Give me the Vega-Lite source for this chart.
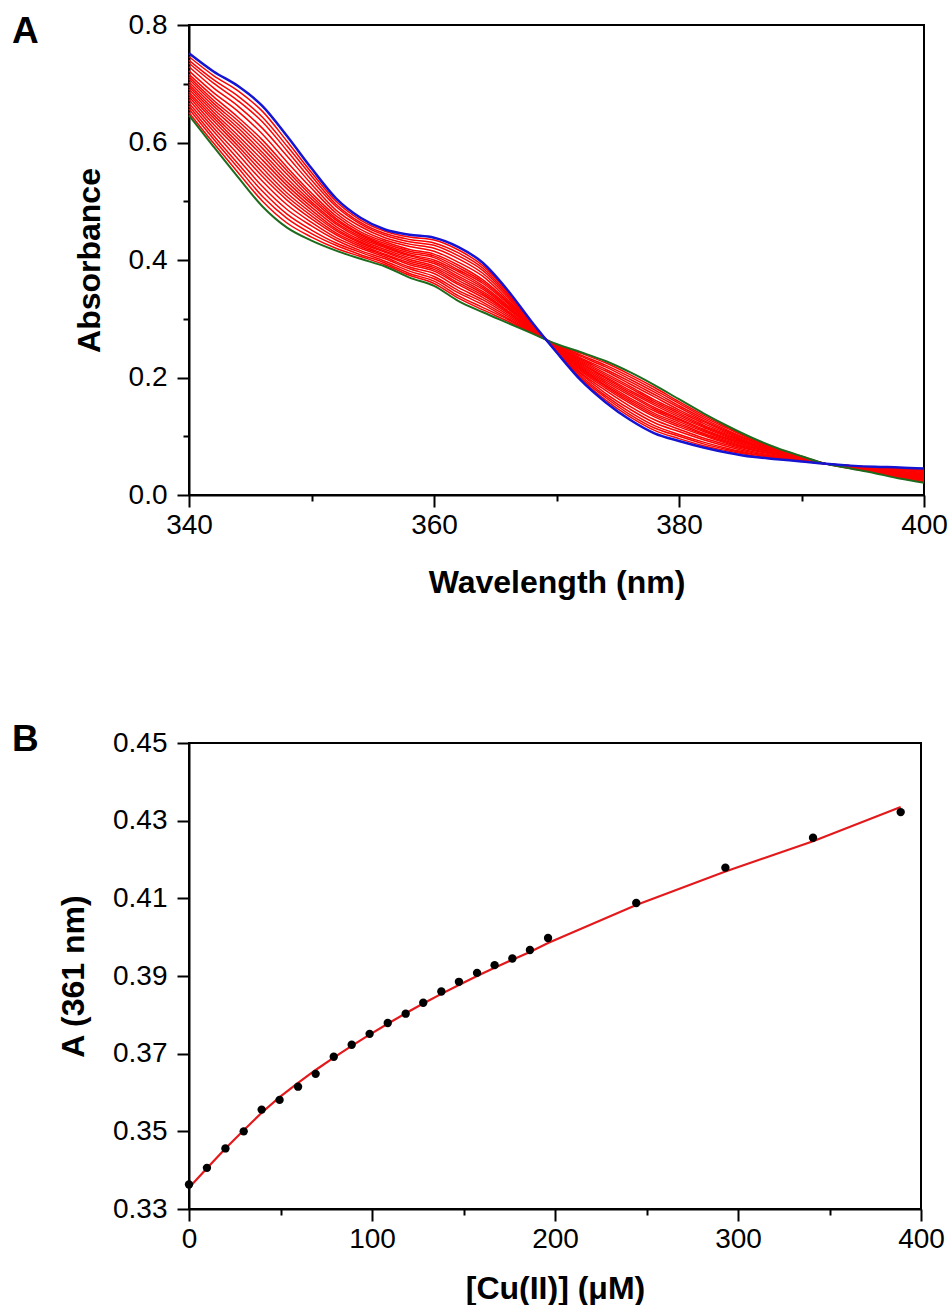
{
  "$schema": "https://vega.github.io/schema/vega-lite/v6.json",
  "background": "white",
  "padding": {"left": 11, "top": 10, "right": 10, "bottom": 0},
  "spacing": 121,
  "config": {
    "font": "Liberation Sans",
    "view": {"stroke": "black", "strokeWidth": 2},
    "axis": {
      "domainColor": "black", "domainWidth": 2,
      "tickColor": "black", "tickWidth": 2,
      "labelFont": "Liberation Sans", "labelFontSize": 28, "labelColor": "black",
      "titleFont": "Liberation Sans", "titleFontSize": 32, "titleFontWeight": "bold", "titleColor": "black",
      "grid": false, "labelFlush": false, "labelOverlap": false, "labelPadding": 8
    },
    "title": {"font": "Liberation Sans", "fontSize": 37, "fontWeight": "bold", "color": "black", "anchor": "start", "frame": "group"}
  },
  "datasets": {
    "spectra": [
      {"w":340,"g":0.646,"b":0.752,"r1":0.651,"r2":0.657,"r3":0.662,"r4":0.667,"r5":0.673,"r6":0.678,"r7":0.682,"r8":0.686,"r9":0.691,"r10":0.695,"r11":0.699,"r12":0.703,"r13":0.708,"r14":0.712,"r15":0.716,"r16":0.722,"r17":0.729,"r18":0.735,"r19":0.740,"r20":0.746},
      {"w":342,"g":0.593,"b":0.721,"r1":0.599,"r2":0.606,"r3":0.612,"r4":0.619,"r5":0.625,"r6":0.631,"r7":0.637,"r8":0.642,"r9":0.647,"r10":0.652,"r11":0.657,"r12":0.662,"r13":0.667,"r14":0.672,"r15":0.678,"r16":0.685,"r17":0.693,"r18":0.701,"r19":0.707,"r20":0.714},
      {"w":344,"g":0.541,"b":0.696,"r1":0.549,"r2":0.557,"r3":0.564,"r4":0.572,"r5":0.580,"r6":0.588,"r7":0.594,"r8":0.600,"r9":0.606,"r10":0.612,"r11":0.619,"r12":0.625,"r13":0.631,"r14":0.637,"r15":0.643,"r16":0.653,"r17":0.662,"r18":0.671,"r19":0.679,"r20":0.688},
      {"w":346,"g":0.491,"b":0.662,"r1":0.500,"r2":0.508,"r3":0.517,"r4":0.525,"r5":0.534,"r6":0.542,"r7":0.549,"r8":0.556,"r9":0.563,"r10":0.570,"r11":0.577,"r12":0.583,"r13":0.590,"r14":0.597,"r15":0.604,"r16":0.614,"r17":0.624,"r18":0.635,"r19":0.643,"r20":0.653},
      {"w":348,"g":0.455,"b":0.611,"r1":0.463,"r2":0.471,"r3":0.478,"r4":0.486,"r5":0.494,"r6":0.502,"r7":0.508,"r8":0.514,"r9":0.521,"r10":0.527,"r11":0.533,"r12":0.539,"r13":0.546,"r14":0.552,"r15":0.558,"r16":0.567,"r17":0.577,"r18":0.586,"r19":0.594,"r20":0.602},
      {"w":350,"g":0.433,"b":0.556,"r1":0.439,"r2":0.445,"r3":0.451,"r4":0.458,"r5":0.464,"r6":0.470,"r7":0.475,"r8":0.480,"r9":0.485,"r10":0.490,"r11":0.495,"r12":0.499,"r13":0.504,"r14":0.509,"r15":0.514,"r16":0.522,"r17":0.529,"r18":0.536,"r19":0.543,"r20":0.549},
      {"w":352,"g":0.416,"b":0.505,"r1":0.420,"r2":0.425,"r3":0.429,"r4":0.434,"r5":0.438,"r6":0.443,"r7":0.446,"r8":0.450,"r9":0.453,"r10":0.457,"r11":0.461,"r12":0.464,"r13":0.468,"r14":0.471,"r15":0.475,"r16":0.480,"r17":0.485,"r18":0.491,"r19":0.495,"r20":0.500},
      {"w":354,"g":0.402,"b":0.472,"r1":0.406,"r2":0.409,"r3":0.413,"r4":0.416,"r5":0.420,"r6":0.423,"r7":0.426,"r8":0.429,"r9":0.431,"r10":0.434,"r11":0.437,"r12":0.440,"r13":0.443,"r14":0.445,"r15":0.448,"r16":0.452,"r17":0.457,"r18":0.461,"r19":0.464,"r20":0.468},
      {"w":356,"g":0.389,"b":0.452,"r1":0.392,"r2":0.395,"r3":0.398,"r4":0.402,"r5":0.405,"r6":0.408,"r7":0.410,"r8":0.413,"r9":0.415,"r10":0.418,"r11":0.421,"r12":0.423,"r13":0.425,"r14":0.428,"r15":0.431,"r16":0.434,"r17":0.438,"r18":0.442,"r19":0.445,"r20":0.449},
      {"w":358,"g":0.370,"b":0.443,"r1":0.374,"r2":0.377,"r3":0.381,"r4":0.385,"r5":0.388,"r6":0.392,"r7":0.395,"r8":0.398,"r9":0.401,"r10":0.404,"r11":0.407,"r12":0.409,"r13":0.412,"r14":0.415,"r15":0.418,"r16":0.423,"r17":0.427,"r18":0.431,"r19":0.435,"r20":0.439},
      {"w":360,"g":0.356,"b":0.438,"r1":0.360,"r2":0.364,"r3":0.368,"r4":0.372,"r5":0.377,"r6":0.381,"r7":0.384,"r8":0.387,"r9":0.390,"r10":0.394,"r11":0.397,"r12":0.400,"r13":0.404,"r14":0.407,"r15":0.410,"r16":0.415,"r17":0.420,"r18":0.425,"r19":0.429,"r20":0.434},
      {"w":362,"g":0.330,"b":0.422,"r1":0.335,"r2":0.339,"r3":0.344,"r4":0.348,"r5":0.353,"r6":0.358,"r7":0.361,"r8":0.365,"r9":0.369,"r10":0.372,"r11":0.376,"r12":0.380,"r13":0.383,"r14":0.387,"r15":0.391,"r16":0.396,"r17":0.402,"r18":0.407,"r19":0.412,"r20":0.417},
      {"w":364,"g":0.311,"b":0.395,"r1":0.315,"r2":0.319,"r3":0.324,"r4":0.328,"r5":0.332,"r6":0.336,"r7":0.340,"r8":0.343,"r9":0.346,"r10":0.350,"r11":0.353,"r12":0.356,"r13":0.360,"r14":0.363,"r15":0.366,"r16":0.372,"r17":0.377,"r18":0.382,"r19":0.386,"r20":0.390},
      {"w":366,"g":0.293,"b":0.349,"r1":0.296,"r2":0.299,"r3":0.301,"r4":0.304,"r5":0.307,"r6":0.310,"r7":0.312,"r8":0.314,"r9":0.317,"r10":0.319,"r11":0.321,"r12":0.323,"r13":0.326,"r14":0.328,"r15":0.330,"r16":0.333,"r17":0.337,"r18":0.340,"r19":0.343,"r20":0.346},
      {"w":368,"g":0.275,"b":0.294,"r1":0.276,"r2":0.277,"r3":0.278,"r4":0.279,"r5":0.280,"r6":0.281,"r7":0.281,"r8":0.282,"r9":0.283,"r10":0.284,"r11":0.285,"r12":0.285,"r13":0.286,"r14":0.287,"r15":0.288,"r16":0.289,"r17":0.290,"r18":0.291,"r19":0.292,"r20":0.293},
      {"w":370,"g":0.257,"b":0.243,"r1":0.256,"r2":0.256,"r3":0.255,"r4":0.254,"r5":0.254,"r6":0.253,"r7":0.252,"r8":0.252,"r9":0.251,"r10":0.251,"r11":0.250,"r12":0.249,"r13":0.249,"r14":0.248,"r15":0.248,"r16":0.247,"r17":0.246,"r18":0.245,"r19":0.245,"r20":0.244},
      {"w":372,"g":0.243,"b":0.195,"r1":0.241,"r2":0.238,"r3":0.236,"r4":0.233,"r5":0.231,"r6":0.229,"r7":0.227,"r8":0.225,"r9":0.223,"r10":0.221,"r11":0.219,"r12":0.217,"r13":0.215,"r14":0.213,"r15":0.211,"r16":0.208,"r17":0.206,"r18":0.203,"r19":0.200,"r20":0.198},
      {"w":374,"g":0.228,"b":0.158,"r1":0.225,"r2":0.221,"r3":0.218,"r4":0.214,"r5":0.211,"r6":0.207,"r7":0.204,"r8":0.201,"r9":0.199,"r10":0.196,"r11":0.193,"r12":0.190,"r13":0.187,"r14":0.185,"r15":0.182,"r16":0.178,"r17":0.173,"r18":0.169,"r19":0.166,"r20":0.162},
      {"w":376,"g":0.209,"b":0.128,"r1":0.205,"r2":0.201,"r3":0.197,"r4":0.193,"r5":0.189,"r6":0.185,"r7":0.182,"r8":0.178,"r9":0.175,"r10":0.172,"r11":0.169,"r12":0.165,"r13":0.162,"r14":0.159,"r15":0.156,"r16":0.151,"r17":0.146,"r18":0.141,"r19":0.137,"r20":0.133},
      {"w":378,"g":0.187,"b":0.105,"r1":0.183,"r2":0.179,"r3":0.175,"r4":0.171,"r5":0.167,"r6":0.162,"r7":0.159,"r8":0.156,"r9":0.153,"r10":0.149,"r11":0.146,"r12":0.143,"r13":0.139,"r14":0.136,"r15":0.133,"r16":0.128,"r17":0.123,"r18":0.118,"r19":0.114,"r20":0.110},
      {"w":380,"g":0.163,"b":0.092,"r1":0.159,"r2":0.156,"r3":0.152,"r4":0.149,"r5":0.145,"r6":0.142,"r7":0.139,"r8":0.136,"r9":0.133,"r10":0.130,"r11":0.128,"r12":0.125,"r13":0.122,"r14":0.119,"r15":0.116,"r16":0.112,"r17":0.108,"r18":0.103,"r19":0.100,"r20":0.096},
      {"w":382,"g":0.139,"b":0.081,"r1":0.136,"r2":0.133,"r3":0.130,"r4":0.127,"r5":0.125,"r6":0.122,"r7":0.119,"r8":0.117,"r9":0.115,"r10":0.112,"r11":0.110,"r12":0.108,"r13":0.105,"r14":0.103,"r15":0.101,"r16":0.097,"r17":0.094,"r18":0.090,"r19":0.087,"r20":0.084},
      {"w":384,"g":0.117,"b":0.072,"r1":0.115,"r2":0.113,"r3":0.110,"r4":0.108,"r5":0.106,"r6":0.104,"r7":0.102,"r8":0.100,"r9":0.098,"r10":0.096,"r11":0.095,"r12":0.093,"r13":0.091,"r14":0.089,"r15":0.087,"r16":0.085,"r17":0.082,"r18":0.079,"r19":0.077,"r20":0.075},
      {"w":386,"g":0.097,"b":0.065,"r1":0.095,"r2":0.094,"r3":0.092,"r4":0.091,"r5":0.089,"r6":0.087,"r7":0.086,"r8":0.085,"r9":0.084,"r10":0.082,"r11":0.081,"r12":0.080,"r13":0.078,"r14":0.077,"r15":0.076,"r16":0.074,"r17":0.072,"r18":0.070,"r19":0.069,"r20":0.067},
      {"w":388,"g":0.080,"b":0.061,"r1":0.079,"r2":0.078,"r3":0.077,"r4":0.076,"r5":0.075,"r6":0.074,"r7":0.074,"r8":0.073,"r9":0.072,"r10":0.071,"r11":0.071,"r12":0.070,"r13":0.069,"r14":0.068,"r15":0.068,"r16":0.066,"r17":0.065,"r18":0.064,"r19":0.063,"r20":0.062},
      {"w":390,"g":0.066,"b":0.057,"r1":0.066,"r2":0.065,"r3":0.065,"r4":0.064,"r5":0.064,"r6":0.063,"r7":0.063,"r8":0.063,"r9":0.062,"r10":0.062,"r11":0.062,"r12":0.061,"r13":0.061,"r14":0.060,"r15":0.060,"r16":0.060,"r17":0.059,"r18":0.058,"r19":0.058,"r20":0.058},
      {"w":392,"g":0.053,"b":0.053,"r1":0.053,"r2":0.053,"r3":0.053,"r4":0.053,"r5":0.053,"r6":0.053,"r7":0.053,"r8":0.053,"r9":0.053,"r10":0.053,"r11":0.053,"r12":0.053,"r13":0.053,"r14":0.053,"r15":0.053,"r16":0.053,"r17":0.053,"r18":0.053,"r19":0.053,"r20":0.053},
      {"w":394,"g":0.045,"b":0.050,"r1":0.045,"r2":0.046,"r3":0.046,"r4":0.046,"r5":0.046,"r6":0.047,"r7":0.047,"r8":0.047,"r9":0.047,"r10":0.047,"r11":0.048,"r12":0.048,"r13":0.048,"r14":0.048,"r15":0.048,"r16":0.049,"r17":0.049,"r18":0.049,"r19":0.050,"r20":0.050},
      {"w":396,"g":0.037,"b":0.048,"r1":0.038,"r2":0.038,"r3":0.039,"r4":0.039,"r5":0.040,"r6":0.040,"r7":0.041,"r8":0.041,"r9":0.042,"r10":0.042,"r11":0.043,"r12":0.043,"r13":0.043,"r14":0.044,"r15":0.044,"r16":0.045,"r17":0.046,"r18":0.046,"r19":0.047,"r20":0.047},
      {"w":398,"g":0.028,"b":0.047,"r1":0.029,"r2":0.030,"r3":0.031,"r4":0.032,"r5":0.033,"r6":0.034,"r7":0.034,"r8":0.035,"r9":0.036,"r10":0.037,"r11":0.037,"r12":0.038,"r13":0.039,"r14":0.040,"r15":0.040,"r16":0.042,"r17":0.043,"r18":0.044,"r19":0.045,"r20":0.046},
      {"w":400,"g":0.021,"b":0.045,"r1":0.022,"r2":0.023,"r3":0.025,"r4":0.026,"r5":0.027,"r6":0.028,"r7":0.029,"r8":0.030,"r9":0.031,"r10":0.032,"r11":0.033,"r12":0.034,"r13":0.035,"r14":0.036,"r15":0.037,"r16":0.038,"r17":0.040,"r18":0.041,"r19":0.042,"r20":0.044}
    ],
    "titration": [
      {"c":0,"a":0.3363,"fit":0.3355},
      {"c":9.8,"a":0.3406,"fit":0.3405},
      {"c":19.9,"a":0.3456,"fit":0.3456},
      {"c":29.9,"a":0.3500,"fit":0.3503},
      {"c":39.7,"a":0.3556,"fit":0.3548},
      {"c":49.5,"a":0.3581,"fit":0.3588},
      {"c":59.6,"a":0.3615,"fit":0.3625},
      {"c":69.2,"a":0.3648,"fit":0.3658},
      {"c":79.1,"a":0.3692,"fit":0.3690},
      {"c":88.9,"a":0.3723,"fit":0.3720},
      {"c":98.7,"a":0.3751,"fit":0.3749},
      {"c":108.6,"a":0.3779,"fit":0.3777},
      {"c":118.4,"a":0.3803,"fit":0.3804},
      {"c":128.0,"a":0.3831,"fit":0.3829},
      {"c":137.9,"a":0.3860,"fit":0.3854},
      {"c":147.5,"a":0.3885,"fit":0.3877},
      {"c":157.4,"a":0.3908,"fit":0.3900},
      {"c":167.0,"a":0.3928,"fit":0.3921},
      {"c":176.7,"a":0.3945,"fit":0.3942},
      {"c":186.3,"a":0.3967,"fit":0.3962},
      {"c":196.2,"a":0.3998,"fit":0.3985},
      {"c":244.4,"a":0.4088,"fit":0.4083},
      {"c":293.1,"a":0.4179,"fit":0.4169},
      {"c":341.0,"a":0.4256,"fit":0.4247},
      {"c":388.9,"a":0.4322,"fit":0.4335}
    ]
  },
  "vconcat": [
    {
      "title": {"text": "A", "dx": -177, "offset": -40},
      "width": 735,
      "height": 470,
      "data": {"name": "spectra"},
      "encoding": {
        "x": {
          "field": "w", "type": "quantitative",
          "scale": {"domain": [340, 400], "nice": false, "zero": false},
          "axis": {
            "title": "Wavelength (nm)", "values": [340, 350, 360, 370, 380, 390, 400],
            "labelExpr": "datum.value % 20 === 0 ? datum.label : ''",
            "tickSize": {"condition": {"test": "datum.value % 20 === 0", "value": 12}, "value": 6},
            "labelPadding": 4, "titlePadding": 28
          }
        }
      },
      "layer": [
        {
          "transform": [{"fold": ["r1","r2","r3","r4","r5","r6","r7","r8","r9","r10","r11","r12","r13","r14","r15","r16","r17","r18","r19","r20"], "as": ["curve", "abs"]}],
          "mark": {"type": "line", "color": "#ff0000", "strokeWidth": 1.5, "interpolate": "monotone"},
          "encoding": {
            "y": {
              "field": "abs", "type": "quantitative",
              "scale": {"domain": [0, 0.8], "nice": false},
              "axis": {
                "title": "Absorbance", "values": [0, 0.1, 0.2, 0.3, 0.4, 0.5, 0.6, 0.7, 0.8],
                "labelExpr": "round(datum.value * 10) % 2 === 0 ? format(datum.value, '.1f') : ''",
                "tickSize": {"condition": {"test": "round(datum.value * 10) % 2 === 0", "value": 12}, "value": 6},
                "labelPadding": 10, "titlePadding": 22
              }
            },
            "detail": {"field": "curve"}
          }
        },
        {
          "mark": {"type": "line", "color": "#1e6b1e", "strokeWidth": 2, "interpolate": "monotone"},
          "encoding": {"y": {"field": "g", "type": "quantitative"}}
        },
        {
          "mark": {"type": "line", "color": "#1414d2", "strokeWidth": 2.5, "interpolate": "monotone"},
          "encoding": {"y": {"field": "b", "type": "quantitative"}}
        }
      ]
    },
    {
      "title": {"text": "B", "dx": -177, "offset": -30},
      "width": 732,
      "height": 466,
      "data": {"name": "titration"},
      "encoding": {
        "x": {
          "field": "c", "type": "quantitative",
          "scale": {"domain": [0, 400], "nice": false},
          "axis": {
            "title": "[Cu(II)] (μM)", "values": [0, 50, 100, 150, 200, 250, 300, 350, 400],
            "labelExpr": "datum.value % 100 === 0 ? datum.label : ''",
            "tickSize": {"condition": {"test": "datum.value % 100 === 0", "value": 12}, "value": 6},
            "labelPadding": 4, "titlePadding": 20
          }
        }
      },
      "layer": [
        {
          "mark": {"type": "line", "color": "#e3191c", "strokeWidth": 2.2},
          "encoding": {
            "y": {
              "field": "fit", "type": "quantitative",
              "scale": {"domain": [0.33, 0.45], "nice": false, "zero": false},
              "axis": {
                "title": "A (361 nm)", "values": [0.33, 0.34, 0.35, 0.36, 0.37, 0.38, 0.39, 0.40, 0.41, 0.42, 0.43, 0.44, 0.45],
                "labelExpr": "round(datum.value * 100) % 2 === 1 ? format(datum.value, '.2f') : ''",
                "tickSize": {"condition": {"test": "round(datum.value * 100) % 2 === 1", "value": 12}, "value": 6},
                "labelPadding": 10, "titlePadding": 22
              }
            }
          }
        },
        {
          "mark": {"type": "point", "filled": true, "color": "black", "size": 70, "opacity": 1},
          "encoding": {"y": {"field": "a", "type": "quantitative"}}
        }
      ]
    }
  ]
}
